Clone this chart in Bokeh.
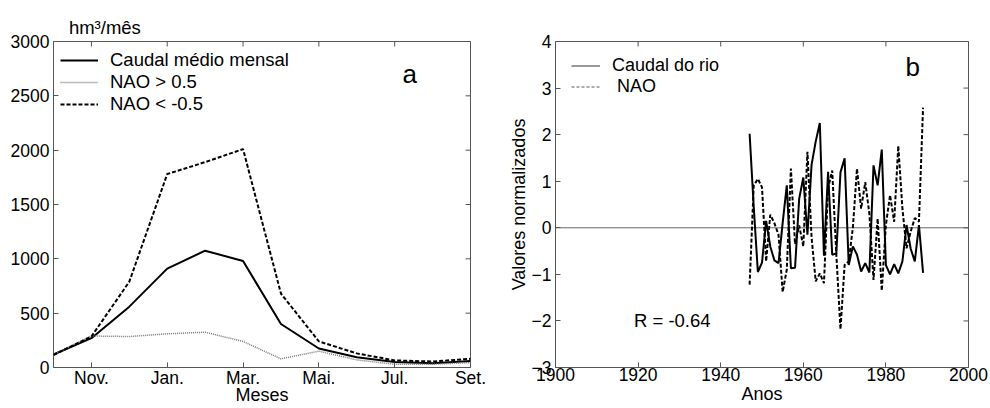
import math
from bokeh.plotting import figure
from bokeh.models import Range1d, FixedTicker, Label, Legend, Span
from bokeh.layouts import row
from bokeh.embed import file_html
from bokeh.resources import INLINE

FONT = "Liberation Sans"

# ---------------- data: panel a ----------------
months = ["Out.", "Nov.", "Dez.", "Jan.", "Fev.", "Mar.", "Abr.", "Mai.", "Jun.", "Jul.", "Ago.", "Set."]
month_idx = list(range(1, 13))
caudal_medio = [120, 270, 560, 910, 1075, 980, 400, 175, 95, 50, 40, 60]
nao_pos = [120, 290, 285, 310, 325, 240, 80, 150, 70, 30, 30, 45]
nao_neg = [115, 285, 790, 1780, 1890, 2010, 680, 240, 130, 65, 55, 80]
month_ticks = [2, 4, 6, 8, 10, 12]
flow_ticks = [0, 500, 1000, 1500, 2000, 2500, 3000]
unit_text = "hm³/mês"

# ---------------- data: panel b ----------------
anos = list(range(1947, 1990))
caudal_rio = [2.02, 0.45, -0.95, -0.75, 0.15, -0.40, -0.70, -0.76, 0.10, 0.91,
              -0.87, -0.86, 0.62, 1.08, -0.15, 1.35, 1.85, 2.25, -0.60, 1.20,
              -0.58, -0.55, 1.19, 1.49, -0.80, -0.40, -0.58, -0.94, -0.76, -0.96,
              1.34, 0.91, 1.68, -0.80, -1.00, -0.78, -0.98, -0.72, 0.06, -0.45,
              -0.72, 0.06, -0.97]
nao = [-1.22, 0.91, 1.05, 0.87, -0.72, 0.28, 0.10, -0.15, -1.38, -0.90,
       1.27, -0.35, 0.05, -0.40, 1.63, -0.20, -1.15, -0.98, -1.19, 0.85,
       1.23, -0.58, -2.18, -0.80, -0.72, 0.00, 1.27, 0.41, 0.98, 0.30,
       -1.12, 0.20, -1.35, 0.06, 0.70, 0.13, 1.76, 0.41, -0.44, -0.08,
       0.21, 0.13, 2.58]
year_ticks = [1900, 1920, 1940, 1960, 1980, 2000]
norm_ticks = [-3, -2, -1, 0, 1, 2, 3, 4]
r_value = -0.64

AX = "#555555"
TICK_FS = "17.5px"


def style_axes(p):
    for ax in (p.below[0], p.left[0]):
        ax.major_tick_in = 5
        ax.major_tick_out = 0
        ax.minor_tick_line_color = None
        ax.major_tick_line_color = AX
        ax.axis_line_color = None
        ax.major_label_text_font = FONT
        ax.major_label_text_font_size = TICK_FS
        ax.major_label_text_color = "black"
        ax.axis_label_text_font = FONT
        ax.axis_label_text_font_style = "normal"
        ax.axis_label_text_font_size = "18px"
        ax.axis_label_text_color = "black"
    p.below[0].major_label_standoff = 0
    p.left[0].major_label_standoff = 4
    p.left[0].axis_label_standoff = 0
    p.grid.visible = False
    p.outline_line_color = AX
    p.outline_line_width = 1


def add_inner_ticks(p, xticks, yticks, xr, yr):
    # inward ticks on the top and right edges of the box
    p.ray(x=xticks, y=[yr.end] * len(xticks), length=5, length_units="screen",
          angle=-math.pi / 2, line_color=AX, line_width=1)
    p.ray(x=[xr.end] * len(yticks), y=yticks, length=5, length_units="screen",
          angle=math.pi, line_color=AX, line_width=1)


# ---------------- panel a ----------------
xr1, yr1 = Range1d(1, 12), Range1d(0, 3000)
p1 = figure(width=505, height=408, x_range=xr1, y_range=yr1,
            output_backend="svg", toolbar_location=None,
            min_border_left=53, min_border_right=35, min_border_top=41, min_border_bottom=41)
p1.xaxis.ticker = FixedTicker(ticks=month_ticks)
p1.xaxis.major_label_overrides = {i: months[i - 1] for i in month_ticks}
p1.xaxis.axis_label = "Meses"
p1.yaxis.ticker = FixedTicker(ticks=flow_ticks)
style_axes(p1)
p1.xaxis.axis_label_standoff = -6
add_inner_ticks(p1, month_ticks, flow_ticks, xr1, yr1)

# unit label above the top-left corner (title, nudged right with no-break spaces)
p1.title.text = "\u00a0" * 3 + unit_text
p1.title.align = "left"
p1.title.standoff = 7
p1.title.text_font = FONT
p1.title.text_font_size = "18.5px"
p1.title.text_font_style = "normal"
p1.title.text_color = "black"

r1 = p1.line(month_idx, caudal_medio, line_color="black", line_width=2)
r2 = p1.line(month_idx, nao_pos, line_color="#777777", line_width=1.5, line_dash="1 1")
r3 = p1.line(month_idx, nao_neg, line_color="black", line_width=2, line_dash="4 2")

leg1 = Legend(items=[("Caudal médio mensal", [r1]), ("NAO > 0.5", [r2]), ("NAO < -0.5", [r3])],
              location=(7, 252), margin=0, padding=0, spacing=0,
              glyph_width=38, glyph_height=18, label_height=18, label_standoff=12,
              label_text_font=FONT, label_text_font_size="18.5px", label_text_color="black",
              border_line_color=None, background_fill_alpha=0)
p1.add_layout(leg1)

p1.add_layout(Label(x=10.4, y=2705, text="a", text_font=FONT, text_font_size="26px",
                    text_color="black", text_align="center", text_baseline="alphabetic"))

# ---------------- panel b ----------------
xr2, yr2 = Range1d(1900, 2000), Range1d(-3, 4)
p2 = figure(width=485, height=408, x_range=xr2, y_range=yr2,
            output_backend="svg", toolbar_location=None,
            min_border_left=46, min_border_right=22, min_border_top=41, min_border_bottom=41)
p2.xaxis.ticker = FixedTicker(ticks=year_ticks)
p2.xaxis.axis_label = "Anos"
p2.yaxis.ticker = FixedTicker(ticks=norm_ticks)
p2.yaxis.axis_label = "Valores normalizados"
style_axes(p2)
p2.xaxis.axis_label_standoff = 0
add_inner_ticks(p2, year_ticks, norm_ticks, xr2, yr2)

p2.add_layout(Span(location=0, dimension="width", line_color="#666666", line_width=1,
                   level="underlay"))
p2.line(anos, caudal_rio, line_color="black", line_width=2)
p2.line(anos, nao, line_color="black", line_width=2, line_dash="4 2")

nan = float("nan")
g1 = p2.line([nan], [nan], line_color="#333333", line_width=1)
g2 = p2.line([nan], [nan], line_color="#555555", line_width=1, line_dash="3 2")
leg2 = Legend(items=[("Caudal do rio", [g1]), (" NAO", [g2])],
              location=(16, 270), margin=0, padding=0, spacing=0,
              glyph_width=29, glyph_height=17, label_height=17, label_standoff=12,
              label_text_font=FONT, label_text_font_size="18px", label_text_color="black",
              border_line_color=None, background_fill_alpha=0)
p2.add_layout(leg2)

p2.add_layout(Label(x=1986.5, y=3.46, text="b", text_font=FONT, text_font_size="26px",
                    text_color="black", text_align="center", text_baseline="alphabetic"))
p2.add_layout(Label(x=1919, y=-2.0, text=f"R = {r_value:.2f}", text_font=FONT,
                    text_font_size="18.5px", text_color="black", text_baseline="middle"))

layout = row(p1, p2)
open("out.html", "w").write(file_html(layout, INLINE))
